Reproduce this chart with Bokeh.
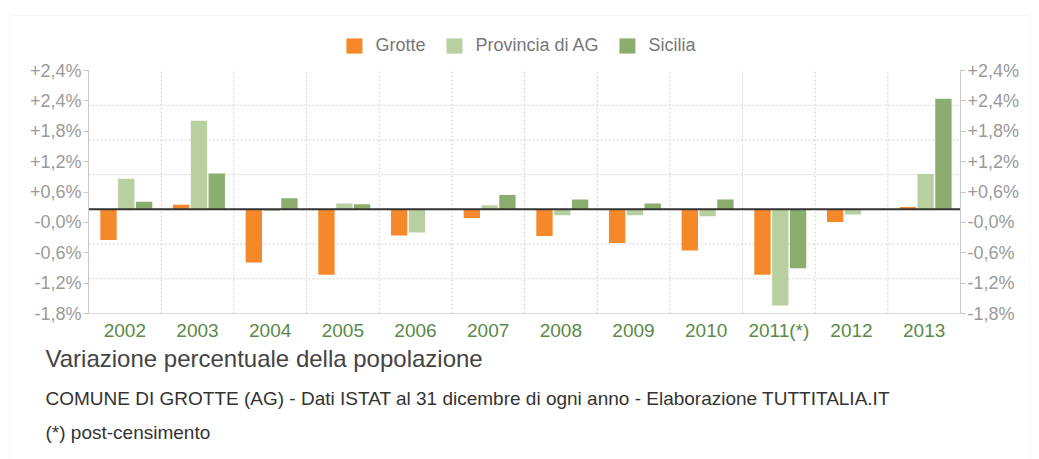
import numpy as np
from bokeh.plotting import figure
from bokeh.models import (ColumnDataSource, Range1d, FixedTicker, LinearAxis,
                          Label, BoxAnnotation, Legend, LegendItem)
from bokeh.transform import dodge
from bokeh.embed import file_html
from bokeh.resources import INLINE

years = ["2002", "2003", "2004", "2005", "2006", "2007", "2008", "2009", "2010",
         "2011(*)", "2012", "2013"]
grotte = [-0.53, 0.08, -0.92, -1.13, -0.45, -0.15, -0.46, -0.58, -0.71, -1.13, -0.22, 0.04]
provincia = [0.53, 1.53, -0.03, 0.10, -0.40, 0.07, -0.10, -0.10, -0.12, -1.66, -0.09, 0.61]
sicilia = [0.13, 0.62, 0.19, 0.09, 0.0, 0.25, 0.17, 0.10, 0.17, -1.02, 0.0, 1.91]
series_names = ["Grotte", "Provincia di AG", "Sicilia"]
y_tick_labels = ["-1,8%", "-1,2%", "-0,6%", "-0,0%", "+0,6%", "+1,2%", "+1,8%", "+2,4%", "+2,4%"]
grid_values = [-1.2, -0.6, 0.6, 1.2, 1.8]
y_min, y_max = -1.8, 2.4

FONT = "Liberation Sans"
colors = ["#F6882C", "#B8D0A0", "#8BAD6D"]
GRID = "#D2D2D2"

# canvas geometry of the plotting region
W, H = 1039, 459
P_LEFT, P_RIGHT, P_TOP, P_BOTTOM = 88, 960, 70, 313
n = len(years)
x_lo, x_hi = -0.5, n - 0.5
ppx = (P_RIGHT - P_LEFT) / (x_hi - x_lo)
ppy = (P_BOTTOM - P_TOP) / (y_max - y_min)
xr = Range1d(x_lo - P_LEFT / ppx, x_hi + (W - P_RIGHT) / ppx)
yr = Range1d(y_min - (H - P_BOTTOM) / ppy, y_max + P_TOP / ppy)

src = ColumnDataSource(dict(x=list(range(n)), grotte=grotte,
                            provincia=provincia, sicilia=sicilia))

p = figure(width=W, height=H, output_backend="svg", toolbar_location=None,
           x_range=xr, y_range=yr, x_axis_location=None, y_axis_location=None,
           min_border=0)
p.outline_line_color = None
p.background_fill_color = "white"
p.border_fill_color = "white"
p.xgrid.visible = False
p.ygrid.visible = False

# dotted grid, limited to the plotting region
vx = [i + 0.5 for i in range(n - 1)]
p.segment(x0=vx, x1=vx, y0=[y_min] * len(vx), y1=[y_max] * len(vx),
          line_color=GRID, line_dash="2 2", line_width=1)
p.segment(x0=[x_lo] * len(grid_values), x1=[x_hi] * len(grid_values),
          y0=grid_values, y1=grid_values, line_color=GRID, line_dash="2 2", line_width=1)

bw = 0.225
offs = [-0.225, 0.02, 0.265]
rs = []
for fld, off, col in zip(["grotte", "provincia", "sicilia"], offs, colors):
    rs.append(p.vbar(x=dodge("x", off), top=fld, bottom=0, width=bw, source=src,
                     fill_color=col, line_color=None))

# zero line
p.line(x=[x_lo, x_hi], y=[0, 0], line_color="#333333", line_width=2)

# y axes
yt = list(np.linspace(y_min, y_max, len(y_tick_labels)))
overrides = {float(t): lab for t, lab in zip(yt, y_tick_labels)}

def style_y(ax):
    ax.ticker = FixedTicker(ticks=yt)
    ax.major_label_overrides = overrides
    ax.bounds = (y_min, y_max)
    ax.axis_line_color = "#C8C8C8"
    ax.major_tick_line_color = "#C8C8C8"
    ax.major_tick_out = 5
    ax.major_tick_in = 0
    ax.minor_tick_line_color = None
    ax.major_label_text_font = FONT
    ax.major_label_text_font_size = "18px"
    ax.major_label_text_color = "#9A9A9A"
    ax.major_label_standoff = 2

ly = LinearAxis(fixed_location=x_lo)
style_y(ly)
p.add_layout(ly, "left")
ry = LinearAxis(fixed_location=x_hi)
style_y(ry)
p.add_layout(ry, "right")

xa = LinearAxis(fixed_location=y_min)
xa.ticker = FixedTicker(ticks=list(range(n)))
xa.major_label_overrides = {i: y for i, y in enumerate(years)}
xa.bounds = (x_lo, x_hi)
xa.axis_line_color = "#DDDDDD"
xa.major_tick_line_color = None
xa.minor_tick_line_color = None
xa.major_label_text_font = FONT
xa.major_label_text_font_size = "19px"
xa.major_label_text_color = "#5A8A46"
xa.major_label_standoff = 0
p.add_layout(xa, "below")

lg = Legend(items=[LegendItem(label=nm, renderers=[r]) for nm, r in zip(series_names, rs)],
            orientation="horizontal", location="top_center", padding=0, margin=35,
            spacing=18, label_standoff=12, glyph_width=20, glyph_height=19,
            label_height=19, label_text_font=FONT, label_text_font_size="18px",
            label_text_color="#777777", border_line_color=None,
            background_fill_alpha=0)
p.add_layout(lg, "center")

# outer frame box (screen units, y measured upward from the bottom)
p.add_layout(BoxAnnotation(left=10, right=1029, top=H - 15, bottom=-20,
                           left_units="screen", right_units="screen",
                           top_units="screen", bottom_units="screen",
                           fill_alpha=0, line_color="#E0E0E0", line_width=1))

texts = [("Variazione percentuale della popolazione", 358, "24px", "#444444"),
         ("COMUNE DI GROTTE (AG) - Dati ISTAT al 31 dicembre di ogni anno - Elaborazione TUTTITALIA.IT", 398, "19px", "#333333"),
         ("(*) post-censimento", 432, "19px", "#333333")]
for t, yy, fs, c in texts:
    p.add_layout(Label(x=45, y=H - yy, x_units="screen", y_units="screen",
                       text=t, text_font=FONT, text_font_size=fs, text_color=c,
                       text_baseline="middle", text_align="left"))

open("out.html", "w").write(file_html(p, INLINE))
